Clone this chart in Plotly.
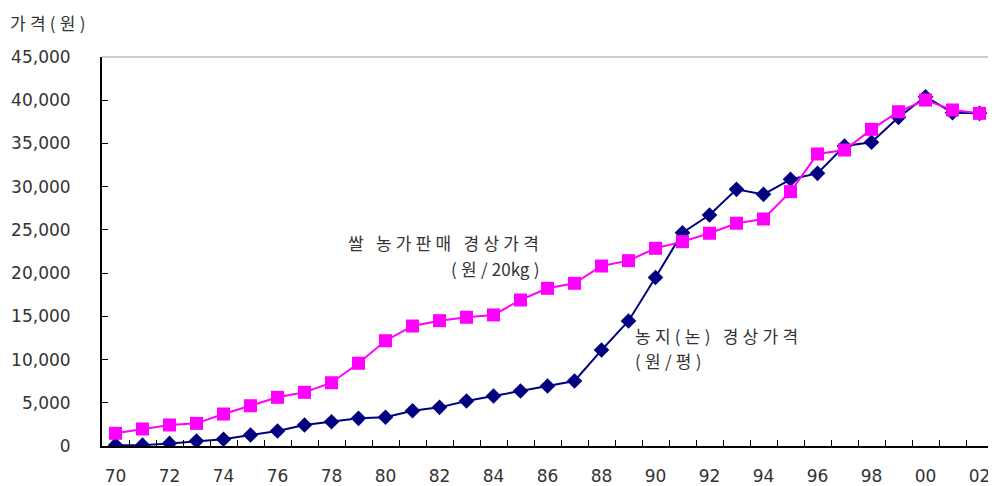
import plotly.graph_objects as go

# 연도 (1970 ~ 2002)
years = ["70", "71", "72", "73", "74", "75", "76", "77", "78", "79",
         "80", "81", "82", "83", "84", "85", "86", "87", "88", "89",
         "90", "91", "92", "93", "94", "95", "96", "97", "98", "99",
         "00", "01", "02"]

# 농지(논) 경상가격 (원/평)
land_price = [100, 100, 300, 580, 775, 1270, 1735, 2430, 2810, 3200,
              3320, 4085, 4470, 5200, 5785, 6360, 6940, 7520, 11100, 14460,
              19500, 24670, 26720, 29690, 29110, 30850, 31540, 34700, 35130, 38020,
              40410, 38560, 38480]

# 쌀 농가판매 경상가격 (원/20kg)
rice_price = [1470, 1970, 2430, 2620, 3700, 4660, 5630, 6210, 7320, 9570,
              12180, 13880, 14500, 14890, 15160, 16890, 18240, 18820, 20820, 21440,
              22870, 23640, 24610, 25770, 26260, 29420, 33780, 34240, 36630, 38670,
              40020, 38870, 38480]

y_ticks = [0, 5000, 10000, 15000, 20000, 25000, 30000, 35000, 40000, 45000]

# the page body has an 8px margin, so the figure is drawn 8px in and down
OFF = 8
W, H = 996 - OFF, 486 - OFF
L, R, T, B = 102 - OFF, 3, 57 - OFF, 40
FONT = "DejaVu Sans, Noto Sans CJK KR, sans-serif"
TXT = "#333333"
SP = "\u2005"  # narrow space, the source uses wide letter spacing


def spaced(s):
    words = [SP.join(w) for w in s.split(" ")]
    return f"{SP} {SP}".join(words)


def px(x, y):
    """pixel position in the screenshot -> paper coordinates"""
    x, y = x - OFF, y - OFF
    return (x - L) / (W - L - R), (H - B - y) / (H - T - B)


fig = go.Figure()
fig.add_trace(go.Scatter(
    x=years, y=land_price, mode="lines+markers", name="농지(논)",
    line=dict(color="#000080", width=2),
    marker=dict(symbol="diamond", size=12, color="#000080"),
))
fig.add_trace(go.Scatter(
    x=years, y=rice_price, mode="lines+markers", name="쌀",
    line=dict(color="#FF00FF", width=2),
    marker=dict(symbol="square", size=13, color="#FF00FF"),
))

annos = [
    (spaced("가격(원)"), 8, 22, "left"),
    (spaced("쌀 농가판매 경상가격"), 541, 242, "right"),
    (SP.join(["(", "원", "/", "20kg", ")"]), 541, 268, "right"),
    (spaced("농지(논) 경상가격"), 633, 335, "left"),
    (spaced("(원/평)"), 633, 360, "left"),
]
for text, x0, y0, anchor in annos:
    ax, ay = px(x0, y0)
    fig.add_annotation(text=text, x=ax, y=ay, xref="paper", yref="paper",
                       xanchor=anchor, yanchor="middle", showarrow=False,
                       font=dict(size=17, color=TXT, family="Noto Sans CJK KR, sans-serif"))

# frame: grey top edge, dark right edge
fig.add_shape(type="line", xref="paper", yref="paper", x0=0, x1=1, y0=1, y1=1,
              line=dict(color="#999999", width=1))
fig.add_shape(type="line", xref="paper", yref="paper", x0=1, x1=1, y0=0, y1=1,
              line=dict(color="#333333", width=1))

fig.update_layout(
    width=W, height=H,
    margin=dict(l=L, r=R, t=T, b=B, autoexpand=False),
    paper_bgcolor="white", plot_bgcolor="white",
    showlegend=False,
    font=dict(family=FONT, size=17, color=TXT),
)
fig.update_xaxes(
    type="category", categoryorder="array", categoryarray=years,
    range=[-0.5, len(years) - 0.5],
    tickmode="array", tickvals=years,
    ticktext=[y if i % 2 == 0 else "" for i, y in enumerate(years)],
    tickangle=0, automargin=False,
    tickson="boundaries", ticks="inside", ticklen=6, tickcolor="black",
    showline=True, linecolor="black", linewidth=2,
    showgrid=False, zeroline=False, ticklabelstandoff=14,
)
fig.update_yaxes(
    range=[0, 45000], tickvals=y_ticks, tickformat=",", automargin=False,
    ticks="inside", ticklen=6, tickcolor="black",
    showline=True, linecolor="black", linewidth=2,
    showgrid=False, zeroline=False, ticklabelstandoff=26,
)

fig.write_html("out.html")
